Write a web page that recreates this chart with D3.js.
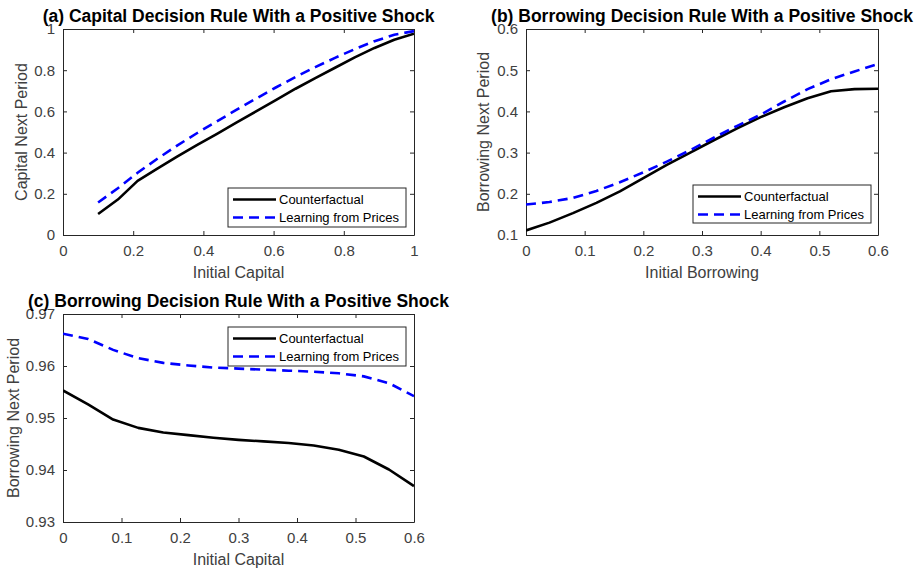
<!DOCTYPE html>
<html>
<head>
<meta charset="utf-8">
<script src="https://cdn.jsdelivr.net/npm/d3@7"></script>
<style>
  html, body { margin: 0; padding: 0; background: #fff; }
  svg { display: block; font-family: "Liberation Sans", Arial, Helvetica, sans-serif; }
</style>
</head>
<body>
<svg id="chart" width="917" height="574"></svg>
<script>
// Panel (a): capital decision rule
const capitalGrid = [0.1, 0.15625, 0.2125, 0.26875, 0.325, 0.38125, 0.4375, 0.49375, 0.55, 0.60625, 0.6625, 0.71875, 0.775, 0.83125, 0.8875, 0.94375, 1.0];
const capitalCounterfactual = [0.102, 0.172, 0.263, 0.322, 0.38, 0.436, 0.49, 0.545, 0.6, 0.655, 0.71, 0.762, 0.812, 0.862, 0.908, 0.948, 0.977];
const capitalLearning = [0.158, 0.227, 0.302, 0.37, 0.434, 0.494, 0.551, 0.607, 0.662, 0.716, 0.767, 0.815, 0.86, 0.902, 0.941, 0.972, 0.99];

// Panel (b): borrowing decision rule over initial borrowing
const borrowingGrid = [0, 0.04, 0.08, 0.12, 0.16, 0.2, 0.24, 0.28, 0.32, 0.36, 0.4, 0.44, 0.48, 0.52, 0.56, 0.6];
const borrowingCounterfactual = [0.111, 0.13, 0.153, 0.178, 0.206, 0.238, 0.27, 0.3, 0.33, 0.359, 0.386, 0.41, 0.432, 0.449, 0.454, 0.455];
const borrowingLearning = [0.174, 0.18, 0.19, 0.207, 0.228, 0.252, 0.278, 0.306, 0.336, 0.365, 0.392, 0.424, 0.454, 0.478, 0.497, 0.515];

// Panel (c): borrowing decision rule over initial capital
const capitalGridC = [0, 0.042857, 0.085714, 0.128571, 0.171429, 0.214286, 0.257143, 0.3, 0.342857, 0.385714, 0.428571, 0.471429, 0.514286, 0.557143, 0.6];
const borrowCapCounterfactual = [0.9553, 0.9526, 0.9497, 0.9481, 0.9472, 0.9467, 0.9462, 0.9458, 0.9455, 0.9452, 0.9447, 0.9439, 0.9426, 0.9401, 0.9369];
const borrowCapLearning = [0.9662, 0.9652, 0.9631, 0.9615, 0.9606, 0.9601, 0.9597, 0.9595, 0.9593, 0.9591, 0.9589, 0.9586, 0.958, 0.9567, 0.9542];

// Tick labels
const ticksA_x = [0, 0.2, 0.4, 0.6, 0.8, 1];
const ticksA_y = [0, 0.2, 0.4, 0.6, 0.8, 1];
const ticksB_x = [0, 0.1, 0.2, 0.3, 0.4, 0.5, 0.6];
const ticksB_y = [0.1, 0.2, 0.3, 0.4, 0.5, 0.6];
const ticksC_x = [0, 0.1, 0.2, 0.3, 0.4, 0.5, 0.6];
const ticksC_y = [0.93, 0.94, 0.95, 0.96, 0.97];

const seriesNames = ["Counterfactual", "Learning from Prices"];

const svg = d3.select("#chart");
const axisColor = "#262626";
const tickColor = "#404040";

function fmt(v) {
  return d3.format("~g")(+v.toFixed(3));
}

function drawPanel(p) {
  const g = svg.append("g");
  const x = d3.scaleLinear().domain(p.xDomain).range([p.left, p.right]);
  const y = d3.scaleLinear().domain(p.yDomain).range([p.bottom, p.top]);

  g.append("rect")
    .attr("x", p.left).attr("y", p.top)
    .attr("width", p.right - p.left).attr("height", p.bottom - p.top)
    .attr("fill", "#fff").attr("stroke", "none");

  // box axes with inward ticks on all four sides
  const tickLen = 4;
  const axB = d3.axisBottom(x).tickValues(p.xTicks).tickSizeInner(-tickLen).tickSizeOuter(0).tickPadding(10).tickFormat(fmt);
  const axT = d3.axisTop(x).tickValues(p.xTicks).tickSizeInner(-tickLen).tickSizeOuter(0).tickFormat("");
  const axL = d3.axisLeft(y).tickValues(p.yTicks).tickSizeInner(-tickLen).tickSizeOuter(0).tickPadding(8).tickFormat(fmt);
  const axR = d3.axisRight(y).tickValues(p.yTicks).tickSizeInner(-tickLen).tickSizeOuter(0).tickFormat("");

  const styleAxis = sel => {
    sel.select(".domain").attr("stroke", axisColor).attr("stroke-width", 1);
    sel.selectAll(".tick line").attr("stroke", axisColor).attr("stroke-width", 1);
    sel.selectAll(".tick text").attr("fill", tickColor).attr("font-size", 15);
  };
  g.append("g").attr("transform", `translate(0,${p.bottom})`).call(axB).call(styleAxis);
  g.append("g").attr("transform", `translate(0,${p.top})`).call(axT).call(styleAxis);
  g.append("g").attr("transform", `translate(${p.left},0)`).call(axL).call(styleAxis);
  g.append("g").attr("transform", `translate(${p.right},0)`).call(axR).call(styleAxis);
  g.selectAll("g text").attr("font-family", null);

  const line = d3.line().x(d => x(d[0])).y(d => y(d[1]));
  const cf = p.xs.map((v, i) => [v, p.cf[i]]);
  const lp = p.xs.map((v, i) => [v, p.lp[i]]);

  const clipId = "clip-" + p.id;
  g.append("clipPath").attr("id", clipId).append("rect")
    .attr("x", p.left).attr("y", p.top - 2)
    .attr("width", p.right - p.left).attr("height", p.bottom - p.top + 4);

  const lines = g.append("g").attr("clip-path", `url(#${clipId})`);
  lines.append("path").datum(cf).attr("d", line)
    .attr("fill", "none").attr("stroke", "#000").attr("stroke-width", 2.6)
    .attr("stroke-linejoin", "round");
  lines.append("path").datum(lp).attr("d", line)
    .attr("fill", "none").attr("stroke", "#0000ff").attr("stroke-width", 2.6)
    .attr("stroke-dasharray", "10,6");

  // title
  g.append("text").attr("x", (p.left + p.right) / 2).attr("y", p.top - 7)
    .attr("text-anchor", "middle").attr("font-weight", "bold").attr("font-size", 17.5)
    .attr("fill", "#000").text(p.title);

  // axis labels
  g.append("text").attr("x", (p.left + p.right) / 2).attr("y", p.bottom + 43)
    .attr("text-anchor", "middle").attr("font-size", 16).attr("fill", tickColor).text(p.xLabel);
  g.append("text")
    .attr("transform", `translate(${p.yLabelX},${(p.top + p.bottom) / 2}) rotate(-90)`)
    .attr("text-anchor", "middle").attr("font-size", 16).attr("fill", tickColor).text(p.yLabel);

  // legend
  const lg = g.append("g");
  lg.append("rect").attr("x", p.legend.x).attr("y", p.legend.y)
    .attr("width", p.legend.w).attr("height", p.legend.h)
    .attr("fill", "#fff").attr("stroke", "#262626").attr("stroke-width", 1);
  const rowY = [p.legend.y + 11.5, p.legend.y + 29.5];
  const styles = [{ c: "#000", d: null }, { c: "#0000ff", d: "10,6" }];
  seriesNames.forEach((name, i) => {
    lg.append("line")
      .attr("x1", p.legend.x + 5).attr("x2", p.legend.x + 48)
      .attr("y1", rowY[i]).attr("y2", rowY[i])
      .attr("stroke", styles[i].c).attr("stroke-width", 2.6)
      .attr("stroke-dasharray", styles[i].d);
    lg.append("text").attr("x", p.legend.x + 51).attr("y", rowY[i] + 4.5)
      .attr("font-size", 13).attr("fill", "#000").text(name);
  });
}

drawPanel({
  id: "a", left: 63, right: 414, top: 29, bottom: 235,
  xDomain: [0, 1], yDomain: [0, 1], xTicks: ticksA_x, yTicks: ticksA_y,
  xs: capitalGrid, cf: capitalCounterfactual, lp: capitalLearning,
  title: "(a) Capital Decision Rule With a Positive Shock",
  xLabel: "Initial Capital", yLabel: "Capital Next Period", yLabelX: 27,
  legend: { x: 228, y: 188, w: 178, h: 39 }
});

drawPanel({
  id: "b", left: 526, right: 878, top: 29, bottom: 235,
  xDomain: [0, 0.6], yDomain: [0.1, 0.6], xTicks: ticksB_x, yTicks: ticksB_y,
  xs: borrowingGrid, cf: borrowingCounterfactual, lp: borrowingLearning,
  title: "(b) Borrowing Decision Rule With a Positive Shock",
  xLabel: "Initial Borrowing", yLabel: "Borrowing Next Period", yLabelX: 489,
  legend: { x: 693, y: 185, w: 178, h: 38 }
});

drawPanel({
  id: "c", left: 63, right: 414, top: 314, bottom: 522,
  xDomain: [0, 0.6], yDomain: [0.93, 0.97], xTicks: ticksC_x, yTicks: ticksC_y,
  xs: capitalGridC, cf: borrowCapCounterfactual, lp: borrowCapLearning,
  title: "(c) Borrowing Decision Rule With a Positive Shock",
  xLabel: "Initial Capital", yLabel: "Borrowing Next Period", yLabelX: 19,
  legend: { x: 228, y: 327, w: 178, h: 39 }
});
</script>
</body>
</html>
